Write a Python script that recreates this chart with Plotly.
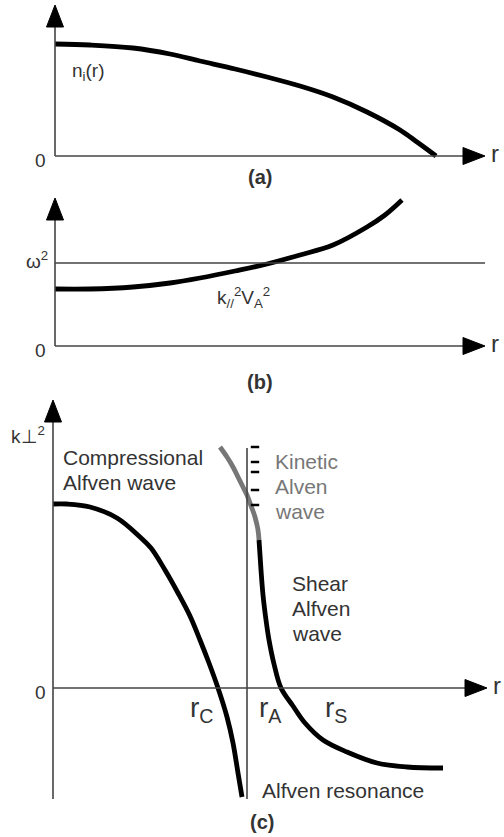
import plotly.graph_objects as go

# ---------------- data ----------------
# panel (a): ion density profile n_i(r)
r_a = [0.00, 0.35, 0.78, 1.15, 1.45, 1.80, 2.12, 2.45, 2.78, 3.12, 3.45, 3.62, 3.73, 3.81]
n_a = [1.12, 1.11, 1.08, 1.02, 0.95, 0.87, 0.79, 0.70, 0.59, 0.44, 0.26, 0.14, 0.06, 0.00]

# panel (b): k_par^2 V_A^2 profile and omega^2 level
r_b = [0.00, 0.35, 0.78, 1.15, 1.45, 1.80, 2.12, 2.45, 2.78, 3.12, 3.30, 3.47]
k_b = [0.57, 0.57, 0.59, 0.63, 0.68, 0.75, 0.82, 0.91, 1.01, 1.19, 1.31, 1.46]
omega2 = 0.83

# panel (c): k_perp^2 branches
r_comp = [0.00, 0.14, 0.37, 0.64, 0.87, 0.98, 1.12, 1.25, 1.37, 1.47, 1.56, 1.65, 1.74, 1.80, 1.85, 1.89]
k_comp = [1.84, 1.84, 1.81, 1.70, 1.51, 1.40, 1.18, 0.95, 0.72, 0.48, 0.25, 0.00, -0.29, -0.55, -0.85, -1.09]

r_kin = [1.67, 1.74, 1.80, 1.85, 1.90, 1.94, 1.97, 2.00, 2.02, 2.05, 2.06]
k_kin = [2.41, 2.31, 2.21, 2.11, 2.01, 1.93, 1.85, 1.77, 1.71, 1.58, 1.48]

r_shear = [2.06, 2.08, 2.10, 2.13, 2.16, 2.21, 2.28, 2.40, 2.52, 2.70, 2.94, 3.24, 3.54, 3.90]
k_shear = [1.48, 1.18, 0.93, 0.68, 0.48, 0.24, 0.00, -0.18, -0.35, -0.52, -0.64, -0.75, -0.79, -0.80]

r_res = 1.94                    # Alfven resonance position
res_span = [-1.11, 2.40]

r_dash = 2.02
k_dash = [2.41, 2.26, 2.16, 1.98, 1.83]

# axis extents per panel: (x_end, y_start, y_end)
ax_a = (4.30, 0.0, 1.51)
ax_b = (4.30, 0.0, 1.48)
ax_c = (4.34, -1.11, 2.88)

# ---------------- styling ----------------
FONT = "Liberation Sans, Arial, sans-serif"
TXT = "#333333"
AXC = "#444444"
GRAY = "#777777"
H = 837
W = 504

fig = go.Figure()

def curve(x, y, ax, color="black", width=4.8):
    fig.add_trace(go.Scatter(x=x, y=y, mode="lines", xaxis=ax[0], yaxis=ax[1],
                             line=dict(color=color, width=width, shape="spline", smoothing=1.0),
                             hoverinfo="skip", showlegend=False))

curve(r_a, n_a, ("x", "y"))
curve(r_b, k_b, ("x2", "y2"))
curve(r_comp, k_comp, ("x3", "y3"))
curve(r_kin, k_kin, ("x3", "y3"), color=GRAY)
curve(r_shear, k_shear, ("x3", "y3"))

fig.add_trace(go.Scatter(x=[r_dash] * len(k_dash), y=k_dash, mode="markers", xaxis="x3", yaxis="y3",
                         marker=dict(symbol="line-ew", size=6, line=dict(color="black", width=2.5)),
                         hoverinfo="skip", showlegend=False))

shapes = []

def axes(xr, yr, ext, hl=0.22, hw=0.085):
    x_end, y0, y_end = ext
    lw = 1.6
    shapes.append(dict(type="line", xref=xr, yref=yr, x0=0, y0=0, x1=x_end - hl, y1=0,
                       line=dict(color=AXC, width=lw)))
    shapes.append(dict(type="line", xref=xr, yref=yr, x0=0, y0=y0, x1=0, y1=y_end - hl,
                       line=dict(color=AXC, width=lw)))
    shapes.append(dict(type="path", xref=xr, yref=yr,
                       path=f"M {x_end - hl},{-hw} L {x_end - hl},{hw} L {x_end},0 Z",
                       fillcolor="black", line=dict(color="black", width=1)))
    shapes.append(dict(type="path", xref=xr, yref=yr,
                       path=f"M {-hw},{y_end - hl} L {hw},{y_end - hl} L 0,{y_end} Z",
                       fillcolor="black", line=dict(color="black", width=1)))

axes("x", "y", ax_a)
axes("x2", "y2", ax_b)
axes("x3", "y3", ax_c)

shapes.append(dict(type="line", xref="x2", yref="y2", x0=0, y0=omega2, x1=ax_b[0], y1=omega2,
                   line=dict(color=AXC, width=1.6)))
shapes.append(dict(type="line", xref="x3", yref="y3", x0=r_res, y0=res_span[0], x1=r_res, y1=res_span[1],
                   line=dict(color=AXC, width=1.6)))

annots = []

def txt(text, x, y, ax, size=21, color=TXT, xa="left", ya="middle", bold=False):
    annots.append(dict(text=f"<b>{text}</b>" if bold else text, x=x, y=y, xref=ax[0], yref=ax[1],
                       xanchor=xa, yanchor=ya, showarrow=False,
                       font=dict(family=FONT, size=size, color=color)))

A = ("x", "y"); B = ("x2", "y2"); C = ("x3", "y3")
# panel a
txt("0", -0.15, -0.04, A, size=19, xa="center")
txt("r", 0.04 + ax_a[0], 0.03, A, size=24)
txt("n<sub>i</sub>(r)", 0.15, 0.84, A, size=19)
txt("(a)", 2.05, -0.21, A, size=20, xa="center", bold=True)
# panel b
txt("0", -0.15, -0.04, B, size=19, xa="center")
txt("r", 0.04 + ax_b[0], 0.03, B, size=24)
txt("ω<sup>2</sup>", -0.05, 0.86, B, size=19, xa="right")
txt("k<sub>//</sub><sup>2</sup>V<sub>A</sub><sup>2</sup>", 1.60, 0.49, B, size=19)
txt("(b)", 2.05, -0.36, B, size=20, xa="center", bold=True)
# panel c
txt("0", -0.13, -0.04, C, size=19, xa="center")
txt("r", 0.04 + ax_c[0], 0.03, C, size=24)
txt("k⊥<sup>2</sup>", -0.06, 2.53, C, size=19, xa="right")
txt("Compressional", 0.08, 2.31, C)
txt("Alfven wave", 0.08, 2.06, C)
txt("Kinetic", 2.20, 2.27, C, color=GRAY)
txt("Alven", 2.20, 2.02, C, color=GRAY)
txt("wave", 2.20, 1.77, C, color=GRAY)
txt("Shear", 2.37, 1.05, C)
txt("Alfven", 2.37, 0.80, C)
txt("wave", 2.37, 0.55, C)
txt("r<sub>C</sub>", 1.35, -0.21, C, size=28)
txt("r<sub>A</sub>", 2.04, -0.21, C, size=28)
txt("r<sub>S</sub>", 2.70, -0.21, C, size=28)
txt("Alfven resonance", 2.07, -1.02, C)
txt("(c)", 2.09, -1.34, C, size=20, xa="center", bold=True)

hidden = dict(visible=False, showgrid=False, zeroline=False, fixedrange=True)
fig.update_layout(
    width=W, height=H, autosize=False,
    margin=dict(l=0, r=0, t=0, b=0),
    paper_bgcolor="white", plot_bgcolor="white",
    xaxis=dict(domain=[0, 1], range=[-0.55, 4.49], anchor="y", **hidden),
    yaxis=dict(domain=[1 - 190 / H, 1], range=[-0.34, 1.56], anchor="x", **hidden),
    xaxis2=dict(domain=[0, 1], range=[-0.55, 4.49], anchor="y2", **hidden),
    yaxis2=dict(domain=[1 - 395 / H, 1 - 190 / H], range=[-0.49, 1.56], anchor="x2", **hidden),
    xaxis3=dict(domain=[0, 1], range=[-0.53, 4.51], anchor="y3", **hidden),
    yaxis3=dict(domain=[0, 1 - 395 / H], range=[-1.49, 2.93], anchor="x3", **hidden),
    shapes=shapes, annotations=annots,
)

fig.write_html("out.html", config={"displayModeBar": False, "staticPlot": True},
               post_script="document.body.style.margin='0px';document.body.style.overflow='hidden';")
